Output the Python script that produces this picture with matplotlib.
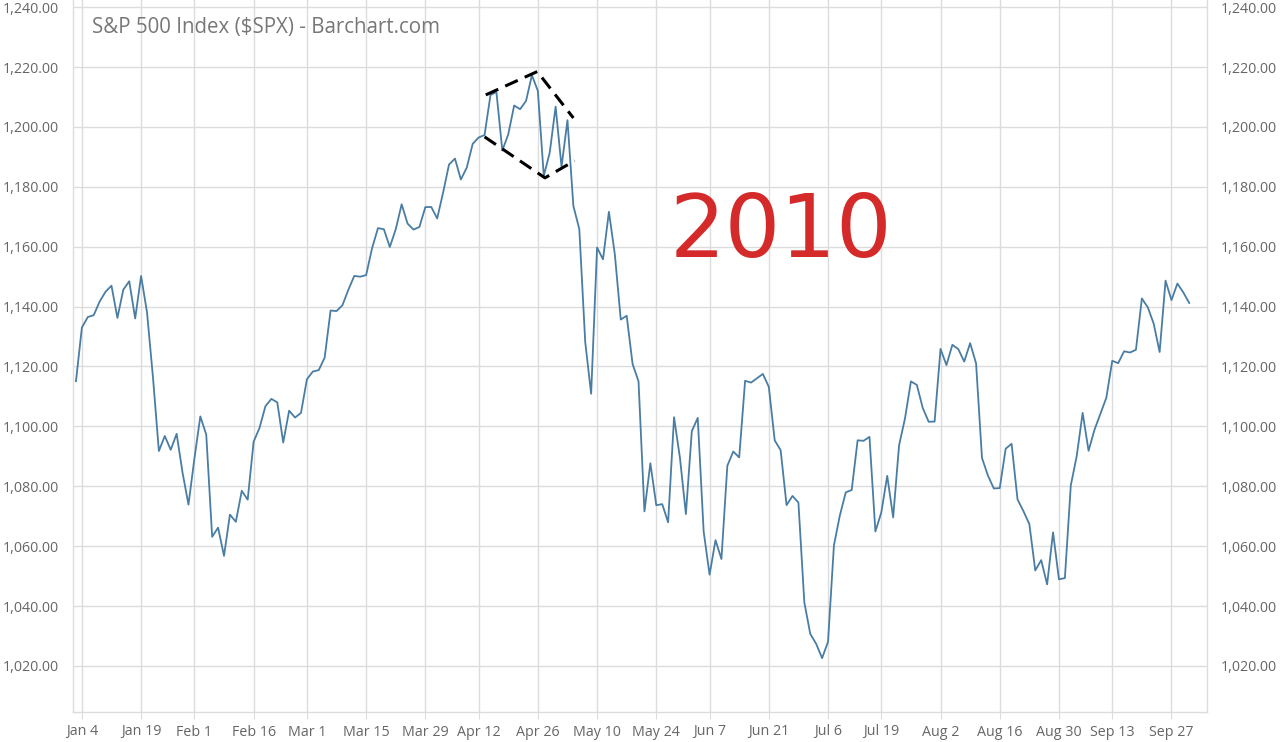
import matplotlib
matplotlib.use("Agg")
import matplotlib.pyplot as plt
import numpy as np
import pandas as pd

# ---- data -------------------------------------------------------------
holidays = ["2010-01-01", "2010-01-18", "2010-02-15", "2010-04-02",
            "2010-05-31", "2010-07-05", "2010-09-06"]
dates = [d for d in pd.bdate_range("2009-12-31", "2010-09-30")
         if d.strftime("%Y-%m-%d") not in holidays]

closes = [
    1115.10,
    # Jan
    1132.99, 1136.52, 1137.14, 1141.69, 1144.98, 1146.98, 1136.22, 1145.68, 1148.46, 1136.03,
    1150.23, 1138.04, 1116.48, 1091.76, 1096.78, 1092.17, 1097.50, 1084.53, 1073.87,
    # Feb
    1089.19, 1103.32, 1097.28, 1063.11, 1066.19, 1056.74, 1070.52, 1068.13, 1078.47, 1075.51,
    1094.87, 1099.51, 1106.75, 1109.17, 1108.01, 1094.60, 1105.24, 1102.94, 1104.49,
    # Mar
    1115.71, 1118.31, 1118.79, 1122.97, 1138.70, 1138.50, 1140.45, 1145.61, 1150.24, 1149.99,
    1150.51, 1159.46, 1166.21, 1165.83, 1159.90, 1165.81, 1174.17, 1167.72, 1165.73, 1166.59,
    1173.22, 1173.27, 1169.43,
    # Apr
    1178.10, 1187.44, 1189.44, 1182.45, 1186.44, 1194.37, 1196.48, 1197.30, 1210.65, 1211.67,
    1192.13, 1197.52, 1207.17, 1205.94, 1208.67, 1217.28, 1212.05, 1183.71, 1191.36, 1206.78,
    1186.69,
    # May
    1202.26, 1173.60, 1165.90, 1128.15, 1110.88, 1159.73, 1155.79, 1171.67, 1157.44, 1135.68,
    1136.94, 1120.80, 1115.05, 1071.59, 1087.69, 1073.65, 1074.03, 1067.95, 1103.06, 1089.41,
    # Jun
    1070.71, 1098.38, 1102.83, 1064.88, 1050.47, 1062.00, 1055.69, 1086.84, 1091.60, 1089.63,
    1115.23, 1114.61, 1116.04, 1117.51, 1113.20, 1095.31, 1092.04, 1073.69, 1076.76, 1074.57,
    1041.24, 1030.71,
    # Jul
    1027.37, 1022.58, 1028.06, 1060.27, 1070.25, 1077.96, 1078.75, 1095.34, 1095.17, 1096.48,
    1064.88, 1071.25, 1083.48, 1069.59, 1093.67, 1102.66, 1115.01, 1113.84, 1106.13, 1101.53,
    1101.60,
    # Aug
    1125.86, 1120.46, 1127.24, 1125.81, 1121.64, 1127.79, 1121.06, 1089.47, 1083.61, 1079.25,
    1079.38, 1092.54, 1094.16, 1075.63, 1071.69, 1067.36, 1051.87, 1055.33, 1047.22, 1064.59,
    1048.92, 1049.33,
    # Sep
    1080.29, 1090.10, 1104.51, 1091.84, 1098.87, 1104.18, 1109.55, 1121.90, 1121.10, 1125.07,
    1124.66, 1125.59, 1142.71, 1139.78, 1134.28, 1124.83, 1148.67, 1142.16, 1147.70, 1144.73,
    1141.20,
]

tick_dates = ["2010-01-04", "2010-01-19", "2010-02-01", "2010-02-16", "2010-03-01",
              "2010-03-15", "2010-03-29", "2010-04-12", "2010-04-26", "2010-05-10",
              "2010-05-24", "2010-06-07", "2010-06-21", "2010-07-06", "2010-07-19",
              "2010-08-02", "2010-08-16", "2010-08-30", "2010-09-13", "2010-09-27"]
tick_labels = ["Jan 4", "Jan 19", "Feb 1", "Feb 16", "Mar 1", "Mar 15", "Mar 29",
               "Apr 12", "Apr 26", "May 10", "May 24", "Jun 7", "Jun 21", "Jul 6",
               "Jul 19", "Aug 2", "Aug 16", "Aug 30", "Sep 13", "Sep 27"]
y_ticks = [1020, 1040, 1060, 1080, 1100, 1120, 1140, 1160, 1180, 1200, 1220, 1240]

# hand-drawn annotation lines (index, price)
upper_x = [69.2, 77.9, 84.0]
upper_y = [1210.7, 1218.5, 1203.0]
lower_x = [69.0, 79.2, 84.2]
lower_y = [1196.7, 1183.0, 1188.7]

# ---- plot -------------------------------------------------------------
plt.rcParams["font.family"] = ["Open Sans", "DejaVu Sans"]
fig = plt.figure(figsize=(12.8, 7.42), dpi=100)
ax = fig.add_axes([73 / 1280, 1 - 712 / 742, (1207 - 73) / 1280, 712 / 742])

date_str = [d.strftime("%Y-%m-%d") for d in dates]
x = np.arange(len(closes))
ax.plot(x, closes, color="#4a7da3", lw=1.3, zorder=3)

tick_pos = [date_str.index(t) for t in tick_dates]
ax.set_xticks(tick_pos)
ax.set_xticklabels(tick_labels)
ax.set_yticks(y_ticks)
ax.set_yticklabels([f"{v:,.2f}" for v in y_ticks])
ax.set_xlim(-0.5, 191.0)
ax.set_ylim(1004.6, 1242.4)

grid_c = "#dcdcdc"
ax.grid(True, color=grid_c, lw=1.0, zorder=0)
for s in ["left", "bottom", "right"]:
    ax.spines[s].set_color(grid_c)
    ax.spines[s].set_linewidth(1.0)
ax.spines["top"].set_visible(False)

ax.tick_params(axis="x", length=5, color=grid_c, labelsize=10.3, labelcolor="#666666", pad=4)
ax.tick_params(axis="y", length=0, labelsize=10.3, labelcolor="#666666", pad=10,
               left=True, right=True, labelleft=True, labelright=True)

fig.text(92 / 1280, 1 - 27 / 742, "S&P 500 Index ($SPX) - Barchart.com",
         fontsize=14.8, color="#777777", ha="left", va="center")

ax.plot(upper_x, upper_y, color="black", lw=2.2, ls=(0, (4.5, 2.5)), zorder=4)
ax.plot(lower_x, lower_y, color="black", lw=2.2, ls=(0, (4.5, 2.5)), zorder=4)

ax.text(119.0, 1164.5, "2010", color="#d42a2a", fontsize=63,
        family=["DejaVu Sans"], ha="center", va="center", zorder=5)

fig.savefig("out.png", dpi=100, facecolor="white")
